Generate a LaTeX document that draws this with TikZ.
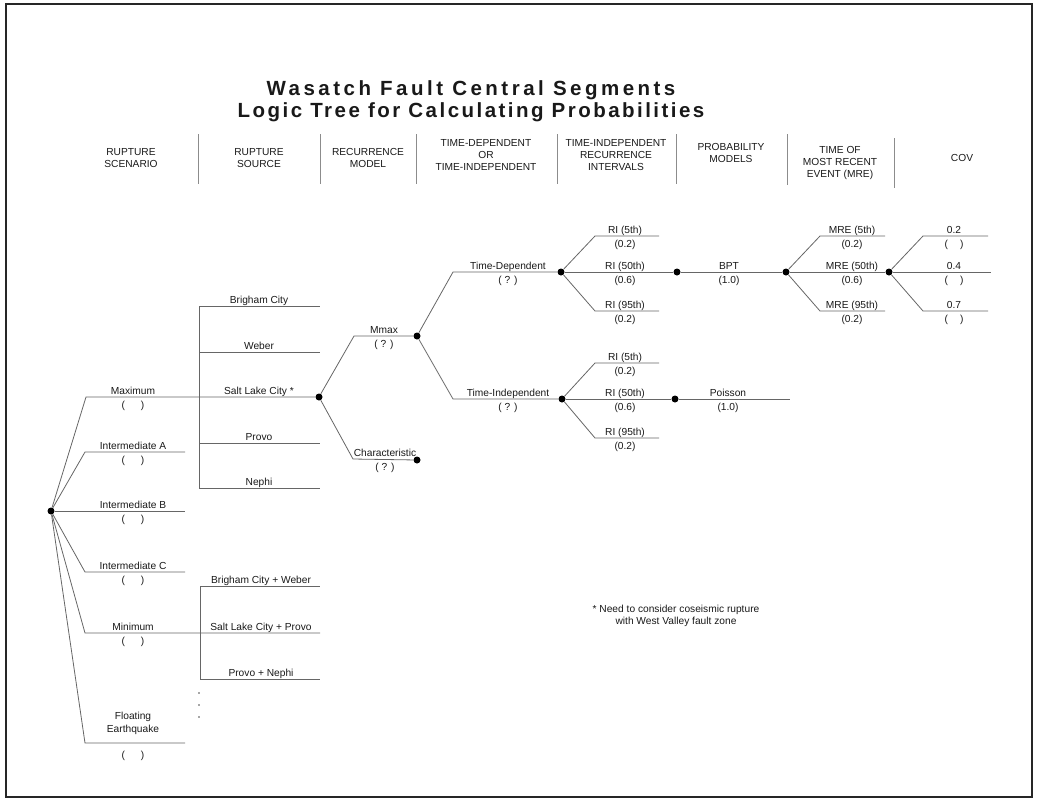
\documentclass[tikz,border=0pt]{standalone}
\usepackage{fontspec}
\setmainfont{Liberation Sans}
\newfontfamily\titlefontA[LetterSpace=17]{Liberation Sans}
\newfontfamily\titlefontB[LetterSpace=12]{Liberation Sans}
\usetikzlibrary{positioning}

\begin{document}
\begin{tikzpicture}[
    x=1pt, y=-1pt,
    every node/.style={font=\fontsize{10.2}{12.2}\selectfont, text=black!90, inner sep=0pt},
    dot/.style={circle, fill=black, inner sep=0pt, minimum size=7pt},
    branch/.style={draw=black!60, line width=0.8pt},
    lab/.style={anchor=base},
    val/.style={anchor=north},
    head/.style={align=center},
    colsep/.style={draw=black!45, line width=0.8pt},
    ttl/.style={anchor=base, text=black!90}
  ]
  \useasboundingbox (0,0) rectangle (1038,804);
  \draw[line width=2.5pt, black!85] (6,4) rectangle (1032,797);

  % Title
  \node[ttl, font=\titlefontA\fontsize{20.5}{22}\selectfont\bfseries] (title1) at (471,95) {Wasatch Fault Central Segments};
  \node[ttl, font=\titlefontB\fontsize{20.5}{22}\selectfont\bfseries] (title2) at (471,117) {Logic Tree for Calculating Probabilities};

  % Column headers
  \node[head] (hscen) at (131,158) {RUPTURE\\SCENARIO};
  \node[head] (hsrc)  at (259,158) {RUPTURE\\SOURCE};
  \node[head] (hrec)  at (368,158) {RECURRENCE\\MODEL};
  \node[head] (htd)   at (486,155) {TIME-DEPENDENT\\OR\\TIME-INDEPENDENT};
  \node[head] (hri)   at (616,155) {TIME-INDEPENDENT\\RECURRENCE\\INTERVALS};
  \node[head] (hprob) at (731,153) {PROBABILITY\\MODELS};
  \node[head] (hmre)  at (840,163) {TIME OF\\MOST RECENT\\EVENT (MRE)};
  \node[head] (hcov)  at (962,158) {COV};
  \draw[colsep] (198,134) -- (198,184);
  \draw[colsep] (320,134) -- (320,184);
  \draw[colsep] (416,134) -- (416,184);
  \draw[colsep] (557,134) -- (557,184);
  \draw[colsep] (676,134) -- (676,184);
  \draw[colsep] (787,134) -- (787,185);
  \draw[colsep] (894,138) -- (894,188);

  % Rupture scenario
  \node[dot] (root) at (51,511) {};
  \coordinate (maxE)   at (86,397);
  \coordinate (intaE)  at (85,452);
  \coordinate (intaR)  at (185,452);
  \coordinate (intbR)  at (185,511);
  \coordinate (intcE)  at (85,572);
  \coordinate (intcR)  at (185,572);
  \coordinate (minE)   at (85,633);
  \coordinate (floatE) at (85,743);
  \coordinate (floatR) at (185,743);
  \draw[branch] (root) -- (intaE) -- (intaR);
  \draw[branch] (root) -- (intbR);
  \draw[branch] (root) -- (intcE) -- (intcR);
  \draw[branch] (root) -- (floatE) -- (floatR);
  \node[lab] at (133,394) {Maximum};
  \node[val] at (133,401) {(\hspace{16pt})};
  \node[lab] at (133,449) {Intermediate A};
  \node[val] at (133,456) {(\hspace{16pt})};
  \node[lab] at (133,508) {Intermediate B};
  \node[val] at (133,515) {(\hspace{16pt})};
  \node[lab] at (133,569) {Intermediate C};
  \node[val] at (133,576) {(\hspace{16pt})};
  \node[lab] at (133,630) {Minimum};
  \node[val] at (133,637) {(\hspace{16pt})};
  \node[lab, align=center] at (133,732) {Floating\\Earthquake};
  \node[val] at (133,751) {(\hspace{16pt})};

  % Rupture source: single segments
  \node[dot] (slc) at (319,397) {};
  \draw[branch] (root) -- (maxE) -- (slc);
  \coordinate (srcT) at (199,306);
  \coordinate (srcB) at (199,488);
  \draw[branch] (srcT) -- (srcB);
  \draw[branch] (srcT) -- (320,306);
  \draw[branch] (199,352) -- (320,352);
  \draw[branch] (199,443) -- (320,443);
  \draw[branch] (srcB) -- (320,488);
  \node[lab] at (259,303) {Brigham City};
  \node[lab] at (259,349) {Weber};
  \node[lab] at (259,394) {Salt Lake City *};
  \node[lab] at (259,440) {Provo};
  \node[lab] at (259,485) {Nephi};

  % Rupture source: multi-segment
  \coordinate (comboT) at (200,586);
  \coordinate (comboB) at (200,679);
  \coordinate (minR)   at (320,633);
  \draw[branch] (root) -- (minE) -- (minR);
  \draw[branch] (comboT) -- (comboB);
  \draw[branch] (comboT) -- (320,586);
  \draw[branch] (comboB) -- (320,679);
  \node[lab] at (261,583) {Brigham City + Weber};
  \node[lab] at (261,630) {Salt Lake City + Provo};
  \node[lab] at (261,676) {Provo + Nephi};
  \fill[black!70] (199,693) circle (0.9) (199,705) circle (0.9) (199,717) circle (0.9);

  % Recurrence model
  \coordinate (mmaxE) at (354,336);
  \coordinate (charE) at (353,459);
  \node[dot] (mmax) at (417,336) {};
  \node[dot] (char) at (417,460) {};
  \draw[branch] (slc) -- (mmaxE) -- (mmax);
  \draw[branch] (slc) -- (charE) -- (char);
  \node[lab] at (384,333) {Mmax};
  \node[val] at (384,340) {( ? )};
  \node[lab] at (385,456) {Characteristic};
  \node[val] at (385,463) {( ? )};

  % Time-dependent or time-independent
  \coordinate (tdE) at (453,272);
  \coordinate (tiE) at (453,399);
  \node[dot] (td) at (561,272) {};
  \node[dot] (ti) at (562,399) {};
  \draw[branch] (mmax) -- (tdE) -- (td);
  \draw[branch] (mmax) -- (tiE) -- (ti);
  \node[lab] at (508,269) {Time-Dependent};
  \node[val] at (508,276) {( ? )};
  \node[lab] at (508,396) {Time-Independent};
  \node[val] at (508,403) {( ? )};

  % Recurrence intervals (time-dependent)
  \coordinate (td5) at (595,236);
  \coordinate (td95) at (595,311);
  \node[dot] (bpt) at (677,272) {};
  \draw[branch] (td) -- (td5) -- (659,236);
  \draw[branch] (td) -- (bpt);
  \draw[branch] (td) -- (td95) -- (659,311);
  \node[lab] at (625,233) {RI (5th)};
  \node[val] at (625,240) {(0.2)};
  \node[lab] at (625,269) {RI (50th)};
  \node[val] at (625,276) {(0.6)};
  \node[lab] at (625,308) {RI (95th)};
  \node[val] at (625,315) {(0.2)};

  % Recurrence intervals (time-independent)
  \coordinate (ti5) at (595,363);
  \coordinate (ti95) at (595,438);
  \node[dot] (pois) at (675,399) {};
  \draw[branch] (ti) -- (ti5) -- (659,363);
  \draw[branch] (ti) -- (pois);
  \draw[branch] (ti) -- (ti95) -- (659,438);
  \node[lab] at (625,360) {RI (5th)};
  \node[val] at (625,367) {(0.2)};
  \node[lab] at (625,396) {RI (50th)};
  \node[val] at (625,403) {(0.6)};
  \node[lab] at (625,435) {RI (95th)};
  \node[val] at (625,442) {(0.2)};

  % Probability models
  \node[dot] (mre) at (786,272) {};
  \coordinate (poisR) at (790,399);
  \draw[branch] (bpt) -- (mre);
  \draw[branch] (pois) -- (poisR);
  \node[lab] at (729,269) {BPT};
  \node[val] at (729,276) {(1.0)};
  \node[lab] at (728,396) {Poisson};
  \node[val] at (728,403) {(1.0)};

  % Time of most recent event
  \coordinate (mre5) at (820,236);
  \coordinate (mre95) at (820,311);
  \node[dot] (cov) at (889,272) {};
  \draw[branch] (mre) -- (mre5) -- (885,236);
  \draw[branch] (mre) -- (cov);
  \draw[branch] (mre) -- (mre95) -- (885,311);
  \node[lab] at (852,233) {MRE (5th)};
  \node[val] at (852,240) {(0.2)};
  \node[lab] at (852,269) {MRE (50th)};
  \node[val] at (852,276) {(0.6)};
  \node[lab] at (852,308) {MRE (95th)};
  \node[val] at (852,315) {(0.2)};

  % COV
  \coordinate (cov2) at (923,236);
  \coordinate (cov7) at (923,311);
  \draw[branch] (cov) -- (cov2) -- (988,236);
  \draw[branch] (cov) -- (991,272);
  \draw[branch] (cov) -- (cov7) -- (988,311);
  \node[lab] at (954,233) {0.2};
  \node[val] at (954,240) {(\hspace{12pt})};
  \node[lab] at (954,269) {0.4};
  \node[val] at (954,276) {(\hspace{12pt})};
  \node[lab] at (954,308) {0.7};
  \node[val] at (954,315) {(\hspace{12pt})};

  % Note
  \node[align=center] (note) at (676,616) {* Need to consider coseismic rupture\\with West Valley fault zone};
\end{tikzpicture}
\end{document}
